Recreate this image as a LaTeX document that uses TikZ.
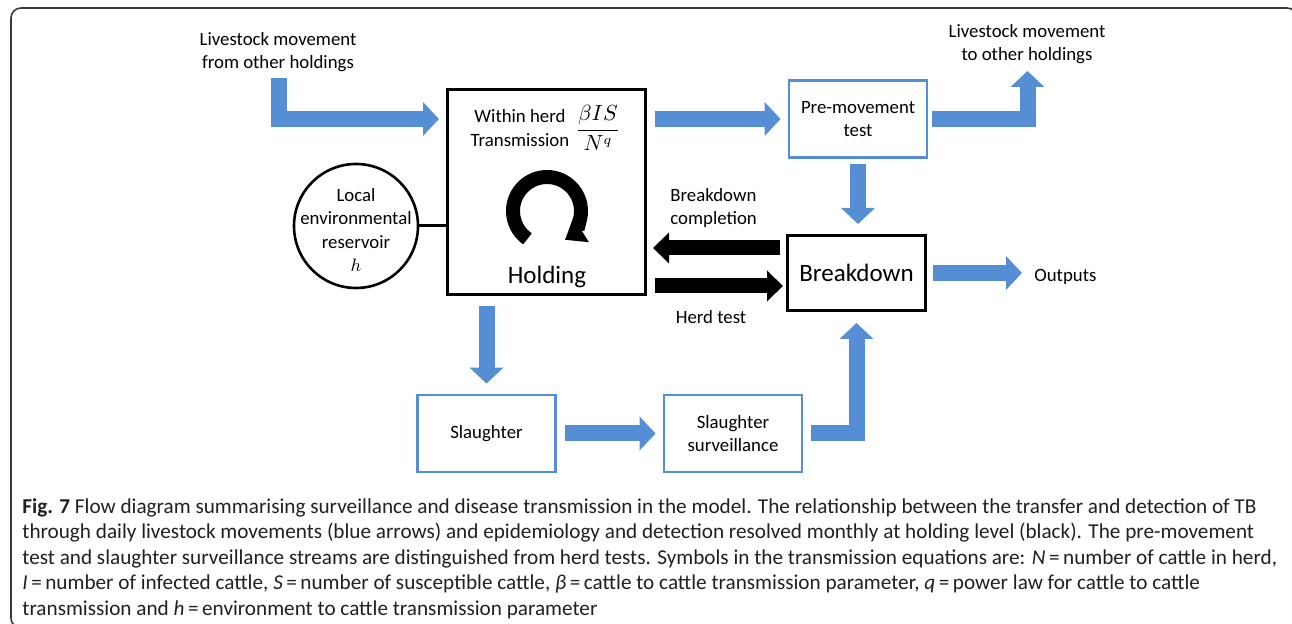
\documentclass[tikz,border=0pt]{standalone}
\usepackage{fontspec}
\setmainfont{Carlito}
\usetikzlibrary{arrows.meta}
\definecolor{flowblue}{HTML}{558ED5}
\definecolor{framegray}{HTML}{3A3A3A}
\definecolor{captiongray}{HTML}{231F20}

\begin{document}
\begin{tikzpicture}[x=0.5pt, y=-0.5pt,
  every node/.style={align=center, inner sep=0pt},
  lbl/.style={font=\fontsize{9.4}{11.6}\selectfont},
  biglbl/.style={font=\fontsize{12.5}{15}\selectfont},
  bluebox/.style={draw=flowblue, line width=1.4pt, minimum width=69pt, minimum height=38.5pt, lbl},
  blackbox/.style={draw=black, line width=1.5pt},
  bluearrow/.style={draw=flowblue, line width=8pt, -{Triangle[length=8pt, width=16.5pt]}},
  blackarrow/.style={draw=black, line width=7.5pt, -{Triangle[length=8pt, width=15pt]}}]
\useasboundingbox (0,0) rectangle (1292,624);

% Frame
\draw[framegray, line width=0.8pt, rounded corners=5pt] (11,8) rectangle (1297,628);

% Holding
\node[blackbox, minimum width=99pt, minimum height=102.5pt] (holding) at (546.5,192) {};
\node[lbl] (withinlbl) at (520,128) {Within herd\\Transmission};
\node[font=\fontsize{10.5}{12}\selectfont] (translbl) at (598,128) {$\displaystyle\frac{\beta IS}{N^{q}}$};
\node[biglbl] (holdlbl) at (547,277) {Holding};
\coordinate (loopc) at (547,211);
\draw[line width=7pt, -{Triangle[length=9.5pt, width=14pt]}] ([shift={(125:34)}]loopc) arc[start angle=125, end angle=418, radius=34];

% Reservoir
\node[circle, draw, line width=1.3pt, minimum size=62pt] (reservoir) at (356,226) {};
\node[lbl] (reslbl) at (356,230) {Local\\environmental\\reservoir\\$h$};
\draw[line width=1.5pt] (reservoir.east) -- (reservoir.east -| holding.west);

% Other boxes
\node[bluebox] (premove) at (858,119) {Pre-movement\\test};
\node[blackbox, biglbl, minimum width=69pt, minimum height=37.5pt] (breakdown) at (856.5,273) {Breakdown};
\node[bluebox] (slaughter) at (486.5,433.5) {Slaughter};
\node[bluebox] (surveil) at (733,433.5) {Slaughter\\surveillance};

% Labels
\node[lbl] (fromlbl) at (278,52) {Livestock movement\\from other holdings};
\node[lbl] (tolbl) at (1027,44) {Livestock movement\\to other holdings};
\node[lbl, align=left, anchor=west] (complbl) at (670,208) {Breakdown\\completion};
\node[lbl] (herdlbl) at (711,317) {Herd test};
\node[lbl, anchor=west] (outlbl) at (1034,277) {Outputs};

% Livestock movements
\coordinate (inflow) at (279,78);
\coordinate (outflow) at (1027.5,71);
\draw[bluearrow, shorten >=3.5pt] (inflow) |- (holding.west |- premove.west);
\draw[bluearrow, shorten <=4pt, shorten >=3.5pt] (holding.east |- premove.west) -- (premove.west);
\draw[bluearrow, shorten <=2pt] (premove.east) -| (outflow);
\draw[bluearrow, shorten <=2.5pt, shorten >=5pt] (premove.south) -- (premove.south |- breakdown.north);
\draw[bluearrow, shorten <=3pt, shorten >=6pt] (breakdown.east) -- (breakdown.east -| outlbl.west);
\draw[bluearrow, shorten <=5pt, shorten >=5pt] (slaughter.north |- holding.south) -- (slaughter.north);
\draw[bluearrow, shorten <=4pt, shorten >=3.5pt] (slaughter.east) -- (surveil.west);
\draw[bluearrow, shorten <=4pt, shorten >=5.5pt] (surveil.east) -| (breakdown.south);

% Holding level
\draw[blackarrow, shorten <=3pt, shorten >=3pt] ([yshift=12.5pt]breakdown.west) -- ([yshift=12.5pt]breakdown.west -| holding.east);
\draw[blackarrow, shorten <=4pt, shorten >=1.5pt] ([yshift=-6.5pt]breakdown.west -| holding.east) -- ([yshift=-6.5pt]breakdown.west);

% Caption
\node[anchor=north west, align=left, text=captiongray, font=\fontsize{10.6}{12.75}\selectfont] (caption) at (22,498)
{\textbf{Fig. 7} Flow diagram summarising surveillance and disease transmission in the model. The relationship between the transfer and detection of TB\\
through daily livestock movements (blue arrows) and epidemiology and detection resolved monthly at holding level (black). The pre-movement\\
test and slaughter surveillance streams are distinguished from herd tests. Symbols in the transmission equations are: \textit{N}\,=\,number of cattle in herd,\\
\textit{I}\,=\,number of infected cattle, \textit{S}\,=\,number of susceptible cattle, \textit{β}\,=\,cattle to cattle transmission parameter, \textit{q}\,=\,power law for cattle to cattle\\
transmission and \textit{h}\,=\,environment to cattle transmission parameter};
\end{tikzpicture}
\end{document}
